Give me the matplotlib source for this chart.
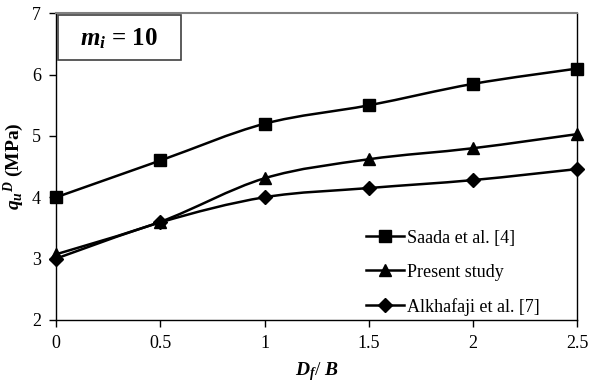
import matplotlib
matplotlib.use("Agg")
import matplotlib.pyplot as plt
import numpy as np
from matplotlib.path import Path
from matplotlib.patches import PathPatch, Rectangle
from matplotlib.lines import Line2D

plt.rcParams["font.family"] = ["Liberation Serif", "DejaVu Serif"]
plt.rcParams["mathtext.fontset"] = "custom"
plt.rcParams["mathtext.rm"] = "Liberation Serif"
plt.rcParams["mathtext.it"] = "Liberation Serif:italic"
plt.rcParams["mathtext.bf"] = "Liberation Serif:bold"
plt.rcParams["mathtext.bfit"] = "Liberation Serif:bold:italic"

df_b = [0, 0.5, 1, 1.5, 2, 2.5]
saada = [4.0, 4.6, 5.2, 5.5, 5.85, 6.1]
present = [3.07, 3.6, 4.31, 4.62, 4.8, 5.03]
alkhafaji = [3.0, 3.59, 4.0, 4.15, 4.28, 4.46]

series = [
    ("Saada et al. [4]", saada, "s", 8),
    ("Present study", present, "^", 9),
    ("Alkhafaji et al. [7]", alkhafaji, "D", 7),
]


def smooth_path(x, y):
    # Catmull-Rom style smoothing expressed as cubic Bezier segments
    x = np.asarray(x, float)
    y = np.asarray(y, float)
    pts = np.column_stack([x, y])
    n = len(pts)
    verts = [pts[0]]
    codes = [Path.MOVETO]
    for i in range(n - 1):
        p0 = pts[i - 1] if i > 0 else pts[i]
        p1 = pts[i]
        p2 = pts[i + 1]
        p3 = pts[i + 2] if i + 2 < n else pts[i + 1]
        c1 = p1 + (p2 - p0) / 6.0
        c2 = p2 - (p3 - p1) / 6.0
        verts += [c1, c2, p2]
        codes += [Path.CURVE4] * 3
    return Path(verts, codes)


fig = plt.figure(figsize=(5.92, 3.83), dpi=100)
ax = fig.add_axes([0.095, 0.165, 0.88, 0.80])

handles = []
for label, vals, mk, ms in series:
    ax.add_patch(PathPatch(smooth_path(df_b, vals), facecolor="none",
                           edgecolor="black", lw=1.8, zorder=2))
    ax.plot(df_b, vals, ls="none", marker=mk, ms=ms, color="black",
            clip_on=False, zorder=3)
    handles.append(Line2D([], [], color="black", lw=1.8, marker=mk,
                          ms=ms, label=label))

ax.set_xlim(0, 2.5)
ax.set_ylim(2, 7)
ax.set_xticks([0, 0.5, 1, 1.5, 2, 2.5])
ax.set_xticklabels(["0", "0.5", "1", "1.5", "2", "2.5"])
ax.set_yticks([2, 3, 4, 5, 6, 7])
ax.tick_params(direction="out", length=5, width=1, labelsize=13, pad=6)
for s in ("left", "bottom", "right"):
    ax.spines[s].set_color("black")
    ax.spines[s].set_linewidth(1.0)
ax.spines["top"].set_color("#808080")
ax.spines["top"].set_linewidth(1.5)

ax.set_xlabel(r"$\mathbfit{D_f}$/ $\mathbfit{B}$", fontsize=14, labelpad=6)
ax.set_ylabel(r"$\mathbfit{q_u}^{\mathbfit{D}}$ (MPa)", fontsize=14,
              fontweight="bold", labelpad=4)

# annotation box in the upper-left corner
ax.add_patch(Rectangle((0.003, 0.848), 0.236, 0.147, transform=ax.transAxes,
                       fc="white", ec="#404040", lw=1.2, zorder=4))
ax.text(0.121, 0.918, r"$\mathbfit{m_i}$ = 10", transform=ax.transAxes,
        fontsize=18, fontweight="bold", ha="center", va="center", zorder=5)

ax.legend(handles=handles, loc="lower right", bbox_to_anchor=(0.96, -0.04),
          frameon=False, fontsize=13, handlelength=2.1, handletextpad=0.2,
          labelspacing=0.95)

fig.savefig("out.png", dpi=100)
